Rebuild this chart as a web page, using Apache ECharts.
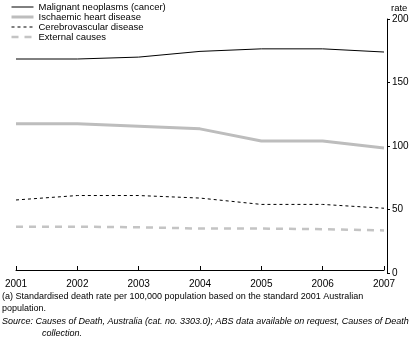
<!DOCTYPE html>
<html>
<head>
<meta charset="utf-8">
<script src="https://cdn.jsdelivr.net/npm/echarts@6/dist/echarts.min.js"></script>
<style>
  body { margin: 0; background: #fff; }
  #main { width: 416px; height: 359px; }
</style>
</head>
<body>
<div id="main"></div>
<script>
// years along the bottom
const years = ["2001", "2002", "2003", "2004", "2005", "2006", "2007"];

// standardised death rate per 100,000
const malignant = [168.5, 168.5, 170, 174.5, 176.5, 176.5, 174];
const ischaemic = [117.5, 117.5, 115.5, 113.5, 104, 104, 98.5];
const cerebro = [57.5, 61, 61, 59, 54, 54, 51];
const external = [36.5, 36.5, 36, 35, 35, 34.5, 33.5];

const yTicks = [0, 50, 100, 150, 200];

let myEchart = echarts.init(document.getElementById("main"));
let font = "Liberation Sans";

let option = {
  animation: false,
  textStyle: { fontFamily: font },
  grid: {
    left: 16,
    right: 32,
    top: 19,
    bottom: 86,
  },
  legend: {
    orient: "vertical",
    left: 10,
    top: 2,
    padding: 0,
    itemWidth: 22,
    itemHeight: 6,
    itemGap: 0,
    itemStyle: { opacity: 0 },
    textStyle: { fontSize: 9.5, lineHeight: 10, color: "#000", fontFamily: font },
    data: [
      { name: "Malignant neoplasms (cancer)", lineStyle: { width: 1 } },
      { name: "Ischaemic heart disease", lineStyle: { width: 3 } },
      { name: "Cerebrovascular disease", lineStyle: { width: 1.2 } },
      { name: "External causes", lineStyle: { width: 2.5 } },
    ],
  },
  xAxis: {
    type: "category",
    boundaryGap: false,
    data: years,
    offset: -3,
    axisLine: { lineStyle: { color: "#000", width: 1 } },
    axisTick: { inside: true, length: 4, lineStyle: { color: "#000" } },
    axisLabel: { color: "#000", fontSize: 10, margin: 9 },
  },
  yAxis: {
    type: "value",
    position: "right",
    offset: 3,
    min: yTicks[0],
    max: yTicks[yTicks.length - 1],
    interval: 50,
    name: "rate",
    nameGap: 6,
    nameTextStyle: { color: "#000", fontSize: 9.5, align: "left", padding: [0, 0, 0, 4] },
    splitLine: { show: false },
    axisLine: { show: true, lineStyle: { color: "#000", width: 1 } },
    axisTick: { show: true, length: 3, lineStyle: { color: "#000" } },
    axisLabel: { color: "#000", fontSize: 10, margin: 5 },
  },
  series: [
    {
      name: "Malignant neoplasms (cancer)",
      type: "line",
      data: malignant,
      symbol: "none",
      lineStyle: { color: "#000", width: 1 },
      itemStyle: { color: "#000" },
    },
    {
      name: "Ischaemic heart disease",
      type: "line",
      data: ischaemic,
      symbol: "none",
      lineStyle: { color: "#bdbdbd", width: 3 },
      itemStyle: { color: "#bdbdbd" },
    },
    {
      name: "Cerebrovascular disease",
      type: "line",
      data: cerebro,
      symbol: "none",
      lineStyle: { color: "#000", width: 1, type: [3, 3] },
      itemStyle: { color: "#000" },
    },
    {
      name: "External causes",
      type: "line",
      data: external,
      symbol: "none",
      lineStyle: { color: "#c4c4c4", width: 2.5, type: [7, 6] },
      itemStyle: { color: "#c4c4c4" },
    },
  ],
  graphic: [
    {
      type: "text",
      left: 2,
      top: 291,
      style: {
        text: "(a) Standardised death rate per 100,000 population based on the standard 2001 Australian\npopulation.",
        font: "9px " + font,
        lineHeight: 12,
        fill: "#000",
      },
    },
    {
      type: "text",
      left: 2,
      top: 317,
      style: {
        rich: {
          i: { fontStyle: "italic", fontSize: 9, fontFamily: font },
        },
        text: "{i|Source: Causes of Death, Australia (cat. no. 3303.0); ABS data available on request, Causes of Death}",
        fill: "#000",
      },
    },
    {
      type: "text",
      left: 42,
      top: 329,
      style: {
        text: "collection.",
        font: "italic 9px " + font,
        fill: "#000",
      },
    },
  ],
};

myEchart.setOption(option, true);
</script>
</body>
</html>
